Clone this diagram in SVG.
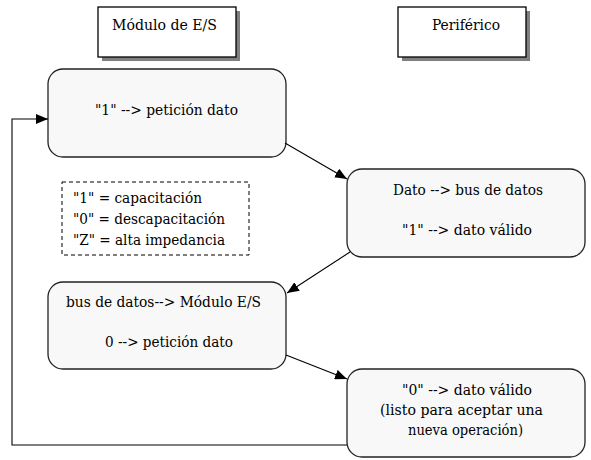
<svg xmlns="http://www.w3.org/2000/svg" width="591" height="460" viewBox="0 0 591 460">
<defs>
<marker id="arr" markerWidth="12" markerHeight="10" refX="12" refY="5" orient="auto" markerUnits="userSpaceOnUse">
<path d="M0,0 L12,5 L0,10 Z" fill="#000"/>
</marker>
</defs>
<style>
.t{font-family:"DejaVu Serif Condensed","DejaVu Serif",serif;font-size:15px;fill:#000}
.hdr{fill:#fff;stroke:#000;stroke-width:1.3}
.shd{fill:#808080}
.node{fill:#f8f8f8;stroke:#222;stroke-width:1.3}
.edge{fill:none;stroke:#000;stroke-width:1.1}
.c{text-anchor:middle}
</style>
<rect width="591" height="460" fill="#fff"/>
<g id="hdr-modulo">
<rect class="shd" x="102" y="11" width="138" height="50"/>
<rect class="hdr" x="98" y="7" width="138" height="50"/>
<text class="t" x="112" y="30" textLength="105" lengthAdjust="spacingAndGlyphs">Módulo de E/S</text>
</g>
<g id="hdr-periferico">
<rect class="shd" x="402" y="11" width="128" height="50"/>
<rect class="hdr" x="398" y="7" width="128" height="50"/>
<text class="t" x="432" y="30" textLength="68" lengthAdjust="spacingAndGlyphs">Periférico</text>
</g>
<g id="n1">
<rect class="node" x="48" y="69" width="238" height="88" rx="15"/>
<text class="t" x="95" y="115" textLength="143" lengthAdjust="spacingAndGlyphs">"1" --&gt; petición dato</text>
</g>
<g id="legend">
<rect x="62" y="182" width="187" height="73" fill="none" stroke="#000" stroke-width="1" stroke-dasharray="4,3"/>
<text class="t" x="73" y="203" textLength="129" lengthAdjust="spacingAndGlyphs">"1" = capacitación</text>
<text class="t" x="73" y="224" textLength="152" lengthAdjust="spacingAndGlyphs">"0" = descapacitación</text>
<text class="t" x="73" y="245" textLength="152" lengthAdjust="spacingAndGlyphs">"Z" = alta impedancia</text>
</g>
<g id="n2">
<rect class="node" x="347" y="169" width="238" height="88" rx="15"/>
<text class="t" x="393" y="195" textLength="150" lengthAdjust="spacingAndGlyphs">Dato --&gt; bus de datos</text>
<text class="t" x="402" y="235" textLength="130" lengthAdjust="spacingAndGlyphs">"1" --&gt; dato válido</text>
</g>
<g id="n3">
<rect class="node" x="48" y="282" width="238" height="87" rx="15"/>
<text class="t" x="66" y="307" textLength="195" lengthAdjust="spacingAndGlyphs">bus de datos--&gt; Módulo E/S</text>
<text class="t" x="105" y="347" textLength="128" lengthAdjust="spacingAndGlyphs">0 --&gt; petición dato</text>
</g>
<g id="n4">
<rect class="node" x="347" y="369" width="238" height="88" rx="15"/>
<text class="t" x="402" y="395" textLength="130" lengthAdjust="spacingAndGlyphs">"0" --&gt; dato válido</text>
<text class="t" x="380" y="415" textLength="163" lengthAdjust="spacingAndGlyphs">(listo para aceptar una</text>
<text class="t" x="408" y="435" textLength="115" lengthAdjust="spacingAndGlyphs">nueva operación)</text>
</g>
<g id="connectors">
<path class="edge" d="M285,143 L347,179" marker-end="url(#arr)"/>
<path class="edge" d="M350,252 L287,293" marker-end="url(#arr)"/>
<path class="edge" d="M286,355 L347,379" marker-end="url(#arr)"/>
<path class="edge" d="M347,445 L12,445 L12,119 L48,119" marker-end="url(#arr)"/>
</g>
</svg>
